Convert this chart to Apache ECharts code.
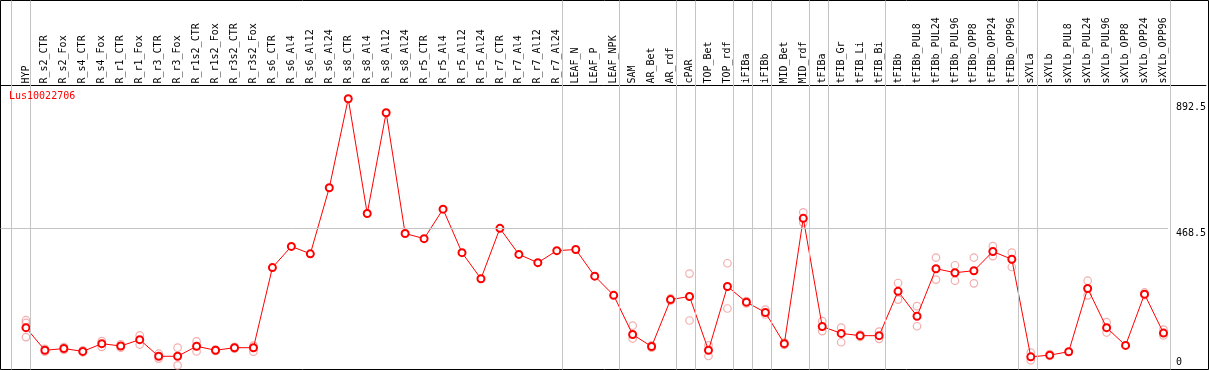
<!DOCTYPE html>
<html><head><meta charset="utf-8">
<script src="https://cdn.jsdelivr.net/npm/echarts@6/dist/echarts.min.js"></script>
<style>html,body{margin:0;padding:0;background:#fff}#c{width:1209px;height:370px}</style>
</head><body><div id="c"></div>
<script>
const chartTitle = 'Lus10022706';
const categories = ['HYP','R_s2_CTR','R_s2_Fox','R_s4_CTR','R_s4_Fox','R_r1_CTR','R_r1_Fox','R_r3_CTR','R_r3_Fox','R_r1s2_CTR','R_r1s2_Fox','R_r3s2_CTR','R_r3s2_Fox','R_s6_CTR','R_s6_Al4','R_s6_Al12','R_s6_Al24','R_s8_CTR','R_s8_Al4','R_s8_Al12','R_s8_Al24','R_r5_CTR','R_r5_Al4','R_r5_Al12','R_r5_Al24','R_r7_CTR','R_r7_Al4','R_r7_Al12','R_r7_Al24','LEAF_N','LEAF_P','LEAF_NPK','SAM','AR_Bet','AR_rdf','cPAR','TOP_Bet','TOP_rdf','iFIBa','iFIBb','MID_Bet','MID_rdf','tFIBa','tFIB_Gr','tFIB_Li','tFIB_Bi','tFIBb','tFIBb_PUL8','tFIBb_PUL24','tFIBb_PUL96','tFIBb_OPP8','tFIBb_OPP24','tFIBb_OPP96','sXYLa','sXYLb','sXYLb_PUL8','sXYLb_PUL24','sXYLb_PUL96','sXYLb_OPP8','sXYLb_OPP24','sXYLb_OPP96'];
const means = [122,43,49,39,66,58,80,22,22,57,43,52,52,332,406,380,611,922,521,873,451,433,536,384,293,469,378,349,391,395,302,235,98,56,220,231,43,266,211,175,66,504,126,102,94,94,249,162,328,314,321,388,361,20,26,38,259,122,60,239,103];
const rep1 = [148,48,54,43,75,64,95,31,52,74,45,55,59,null,null,null,null,null,null,null,null,null,null,null,null,null,null,null,null,null,null,null,129,60,224,311,60,347,215,185,70,525,145,122,98,108,278,197,367,340,367,407,384,35,30,null,286,141,null,245,115];
const rep2 = [139,38,44,36,55,52,63,14,-10,39,41,49,38,null,null,null,null,null,null,null,null,null,null,null,null,null,null,null,null,null,null,null,84,52,216,147,23,189,207,168,62,489,110,71,90,83,220,127,290,286,277,372,334,8,23,null,235,105,null,236,95];
const rep3 = [89,null,null,null,null,null,null,null,null,null,null,null,null,null,null,null,null,null,null,null,null,null,null,null,null,null,null,null,null,null,null,null,null,null,null,null,null,null,null,null,null,null,null,null,null,null,null,null,null,null,null,null,null,null,null,null,null,null,null,null,null];
const groupEnds = [-1,0,28,31,34,35,37,38,39,41,42,45,52,53,60];
const yTickValues = [0, 468.5, 892.5];
const yGuideValue = 468.5;

const FONT = 'DejaVu Sans Mono';
const GRAY = '#c4c4c4';
const boundaryShift = 4.5 / 19;
const xMin = -25.5 / 19, xMax = 1182.5 / 19;
const yMin = -24.18, yMax = 968.1;

const repData = [];
[rep1, rep2, rep3].forEach(arr => arr.forEach((v, i) => { if (v !== null) repData.push([i, v]); }));
const meanData = means.map((v, i) => [i, v]);

const chart = echarts.init(document.getElementById('c'));
chart.setOption({
  animation: false,
  backgroundColor: '#fff',
  title: {
    text: chartTitle, left: 9, top: 91, padding: 0,
    textStyle: { color: '#ff0000', fontSize: 10, fontFamily: FONT, fontWeight: 'normal' }
  },
  grid: [
    { left: 0.5, right: 0.5, top: 0.5, bottom: 0.5, show: true, borderColor: '#000', borderWidth: 1, backgroundColor: 'transparent' },
    { left: 0.5, right: 0.5, top: 85.5, bottom: 0.5, show: false }
  ],
  xAxis: [
    { gridIndex: 0, type: 'value', min: xMin, max: xMax, show: false },
    {
      gridIndex: 1, type: 'value', min: xMin, max: xMax, position: 'top',
      axisLine: { show: true, onZero: false, lineStyle: { color: '#000', width: 1 } },
      axisTick: { show: false }, splitLine: { show: false },
      axisLabel: {
        customValues: categories.map((_, i) => i),
        formatter: v => categories[Math.round(v)] || '',
        rotate: -90, margin: 2, fontSize: 10, fontFamily: FONT, color: '#000'
      }
    }
  ],
  yAxis: [
    { gridIndex: 0, type: 'value', min: 0, max: 1, show: false },
    {
      gridIndex: 1, type: 'value', min: yMin, max: yMax, position: 'right',
      axisLine: { show: false, onZero: false }, axisTick: { show: false }, splitLine: { show: false },
      axisLabel: {
        customValues: yTickValues, inside: true, margin: 30, align: 'left',
        verticalAlign: 'middle',
        fontSize: 10, fontFamily: FONT, color: '#000',
        formatter: v => (v === yGuideValue ? '{g|' + v + '}' : '{n|' + v + '}'),
        rich: {
          g: { fontSize: 10, fontFamily: FONT, color: '#000', padding: [10, 0, 0, 0] },
          n: { fontSize: 10, fontFamily: FONT, color: '#000' }
        }
      }
    }
  ],
  series: [
    {
      type: 'line', xAxisIndex: 0, yAxisIndex: 0, data: [], silent: true, z: 0,
      markLine: {
        silent: true, symbol: 'none', animation: false,
        label: { show: false },
        lineStyle: { color: GRAY, width: 1, type: 'solid' },
        emphasis: { disabled: true },
        data: groupEnds.map(g => ({ xAxis: g + boundaryShift }))
      }
    },
    {
      type: 'line', xAxisIndex: 1, yAxisIndex: 1, data: [], silent: true, z: 0,
      markLine: {
        silent: true, symbol: 'none', animation: false,
        label: { show: false },
        lineStyle: { color: GRAY, width: 1, type: 'solid' },
        emphasis: { disabled: true },
        data: [[{ coord: [xMin, yGuideValue] }, { coord: [groupEnds[groupEnds.length - 1] + boundaryShift, yGuideValue] }]]
      }
    },
    {
      type: 'scatter', xAxisIndex: 1, yAxisIndex: 1, data: repData, z: 1, silent: true,
      symbol: 'circle', symbolSize: 7.5,
      itemStyle: { color: 'rgba(255,255,255,0)', borderColor: '#ee9a9a', borderWidth: 1.2 }
    },
    {
      type: 'line', xAxisIndex: 1, yAxisIndex: 1, data: meanData, z: 2, silent: true,
      symbol: 'emptyCircle', symbolSize: 7, showSymbol: true,
      lineStyle: { color: '#ff0000', width: 1 },
      itemStyle: { color: '#ff0000', borderColor: '#ff0000', borderWidth: 1.2 }
    }
  ]
});
</script></body></html>
